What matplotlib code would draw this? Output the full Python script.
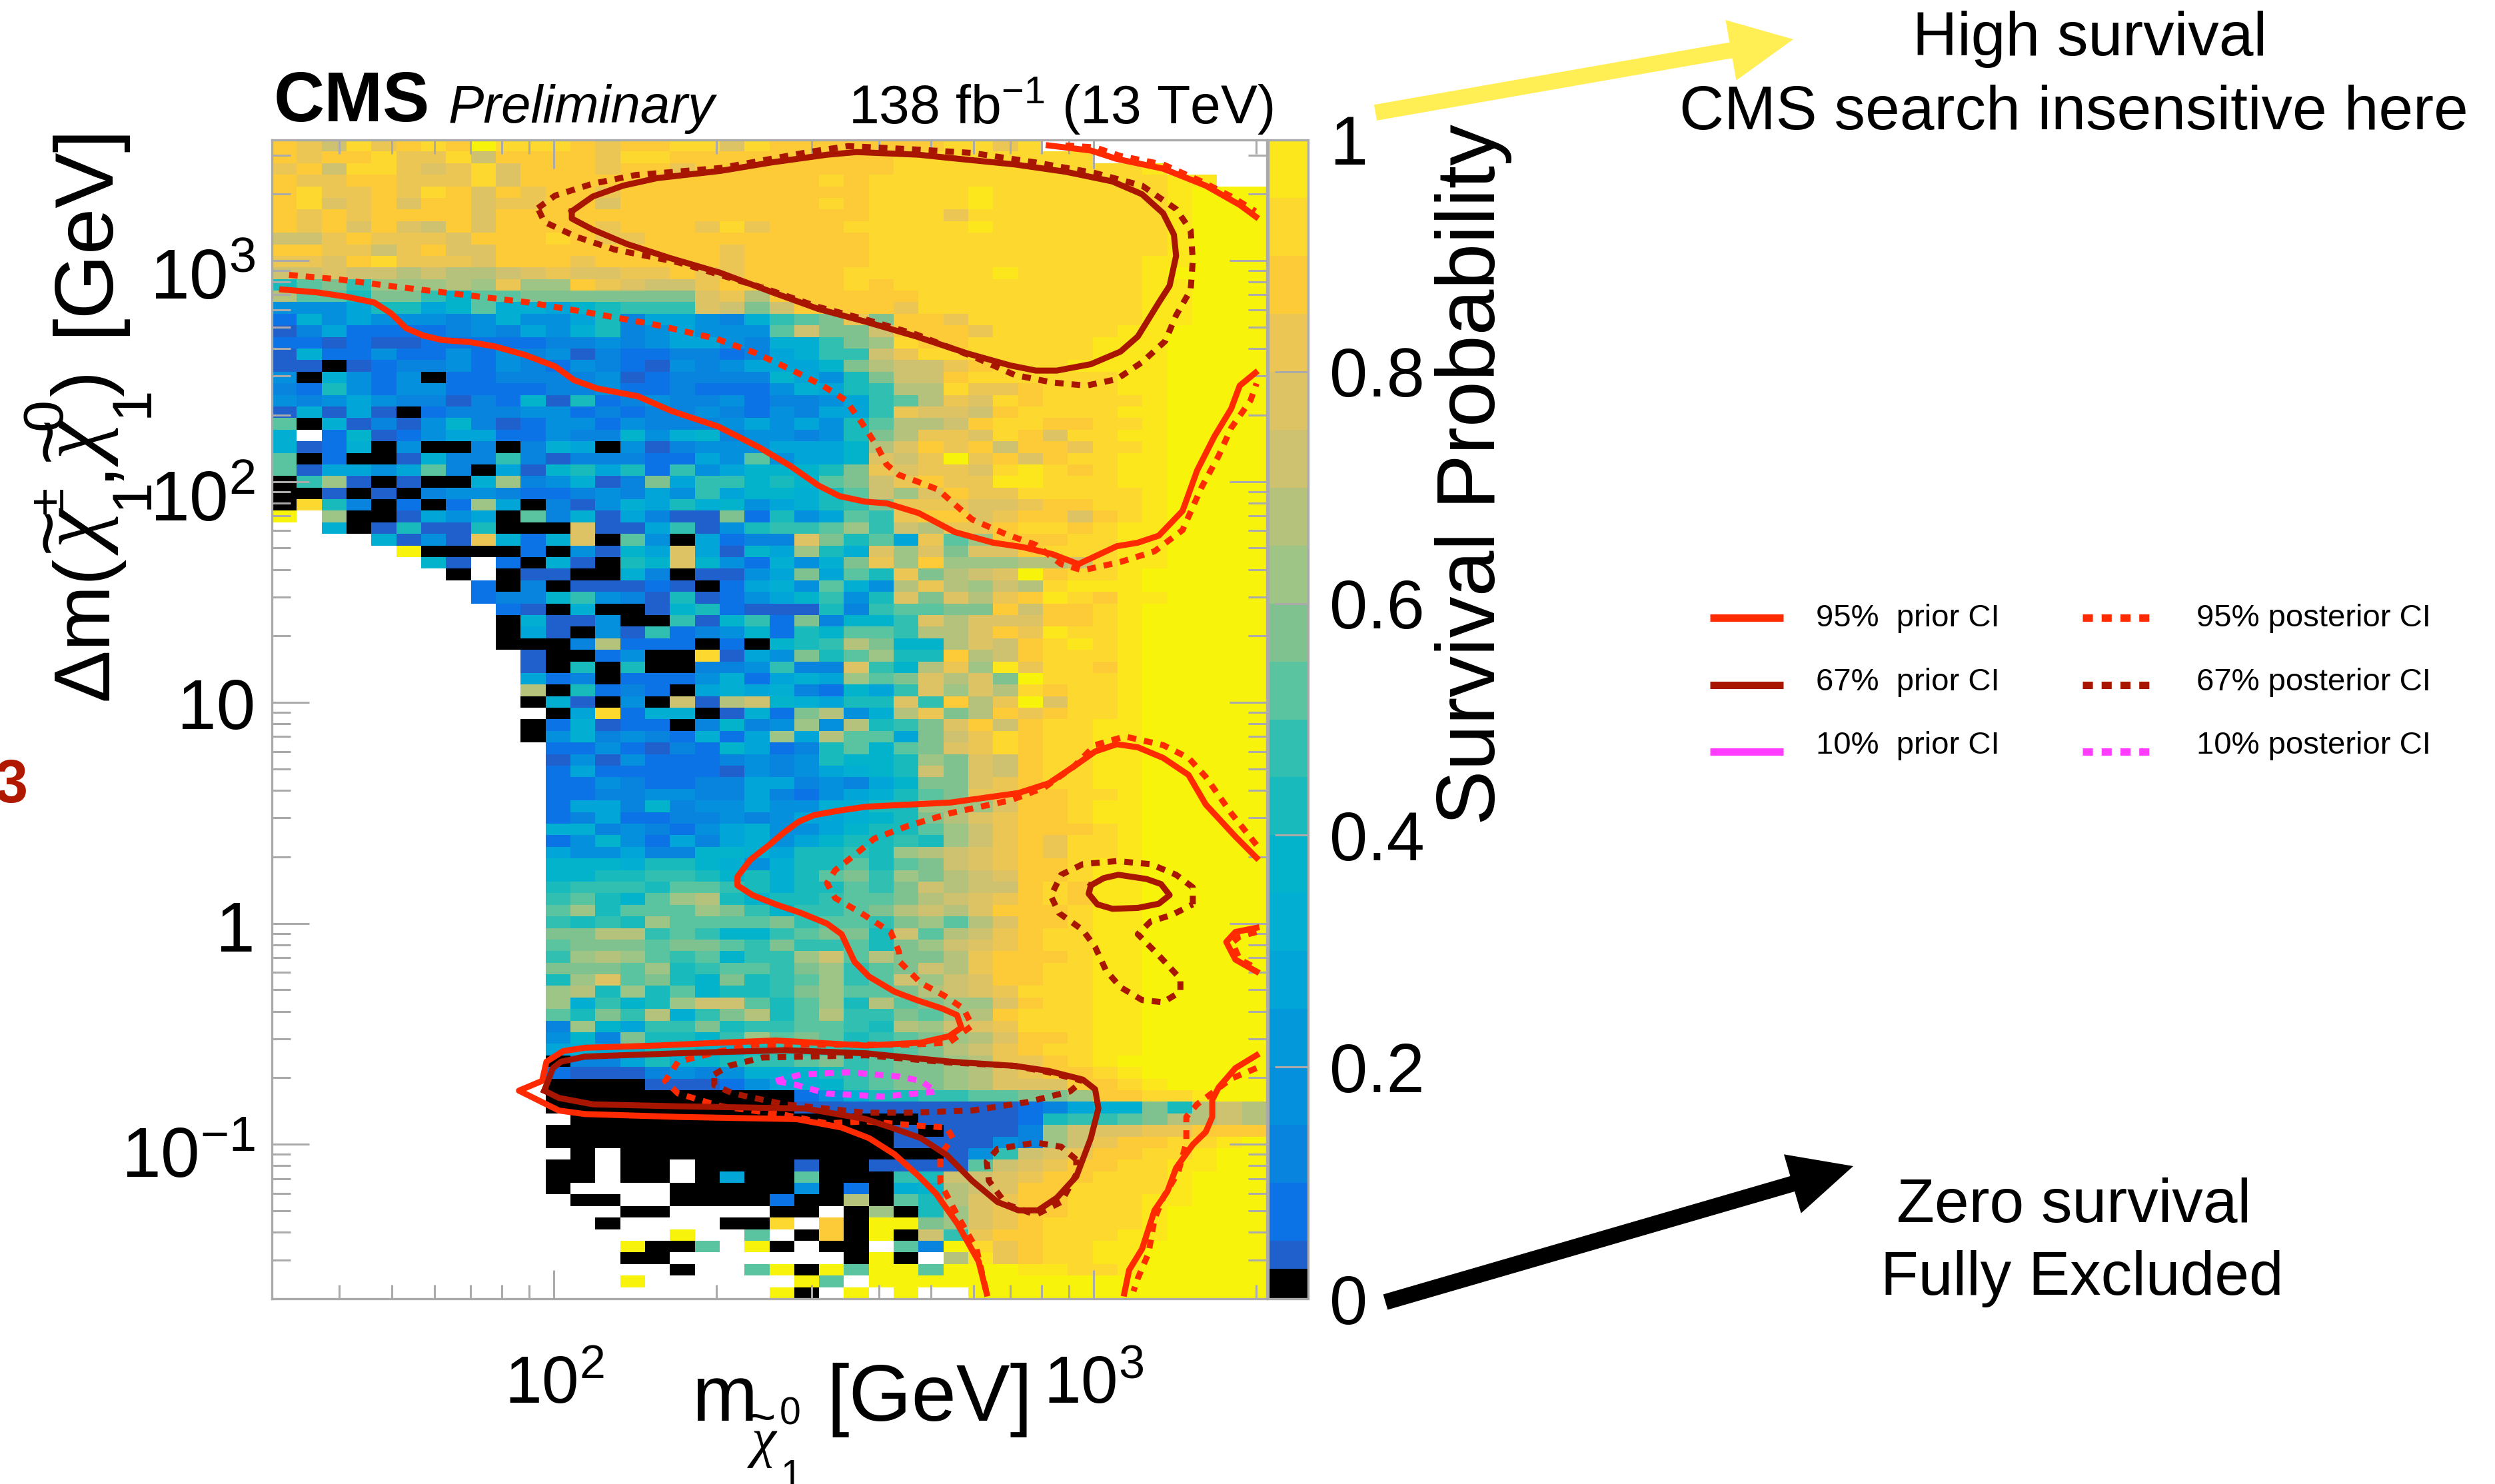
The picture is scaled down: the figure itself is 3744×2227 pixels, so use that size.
import matplotlib
matplotlib.use("Agg")
import matplotlib.pyplot as plt
import matplotlib.patches as mpatches
from matplotlib.colors import BoundaryNorm, ListedColormap
from matplotlib.lines import Line2D
from matplotlib.transforms import Affine2D, ScaledTranslation
import numpy as np

W, H = 3744, 2227

plt.rcParams["font.family"] = ["Liberation Sans", "DejaVu Sans"]
plt.rcParams["mathtext.fontset"] = "custom"
plt.rcParams["mathtext.rm"] = "Liberation Sans"
plt.rcParams["mathtext.it"] = "Liberation Sans:italic"
plt.rcParams["mathtext.bf"] = "Liberation Sans:bold"
plt.rcParams["mathtext.default"] = "regular"

# survival probability per cell, top row first, 40 mass bins per row
# '.' no point, '0' excluded, a..t rising probability (see CELL_VALUES)
CELL_CODES = "0abcdefghijklmnopqrst"
CELL_VALUES = [0.01, 0.04, 0.075, 0.125, 0.175, 0.275, 0.325, 0.375, 0.425, 0.475, 0.525,
               0.575, 0.625, 0.675, 0.725, 0.775, 0.825, 0.875, 0.925, 0.975, 1.0]
ROWS = [
    "qpnrpqrqtr rrqpqqrror qqqqqqqrrp r.........",
    "qpqqrpprnq qqqprrqqqq qqqqqrrrrr rrr.......",
    "pqnrrpopro qqqpqqpqqq qqqqqrrrrr rrrrrs....",
    "qppqqpppro qqqqqqqqqq qqrqrrrrrr rrrrrrss..",
    "qrppqprqoq pqqpqqqqqq qqqqrrrrsr rrrrrrsttt",
    "qropqoqqop pqqoqqqqqq qqrqrrrrsr rrrrrrsttt",
    "qpqpqqqqoq qqqqqqqqqq qqqqrrrprr rrrrrrsttt",
    "qpqoqonqoq qqqpqqqprp qqqrrrrrsr rrrrrrsttt",
    "nnpqpppoqq qrqppqqqqq qqqqrrrrrr rrrrrrsttt",
    "qqppnpqooq qqqqqqqqpq qqqqrrrrrr rrrrrrsttt",
    "ppoqrpppoq qqpqqqqqpq qqqqrrrrrr rrrrrsstt t",
    "nnonnmnmmn opooppqppq qqqrrrrrrs rrrrrsttt t",
    "hjkilllmlp llqponnpqq qqqrqrrrrr rrrrrsstt t",
    "mjjhkkigjj kkkkkkkopm qqqqqqrrrr rrrrrssttt",
    "dddehhegjf feghiiionk nqqqqprrrr rrrrrssttt",
    "bfdedddcdf ddehceedcf ijkpkqqprr rrrrrssttt",
    "acebbbbcdc edfhcdeddd jnkknqqqpr rrrrsstttt",
    "bbabaabbbb bccdcdeedc ffiklrqqrr rrrssstttt",
    "afbbdbbdbd cdacbbccbc efiinprrrr rrrssstttt",
    "aa0abccdbd cbdcbadcde eegkmnnpqr rrsssstttt",
    "d0fdbd0bbc cccdabcccc gedhknnqrr rrrrsstttt",
    "cbhdbddbbb bccdbbcbbb dfehimmrpp qrrrsstttt",
    "dcdedccacb gahbcdccdb ccdeijmpor qrrrrstttt",
    "afaea0bccc ddbcbccdcb dceeipoonq rrrrsstttt",
    "j0facadgca bddbdcccde dedhjmmnqr rqqrrstttt",
    "f.bgabdeeb bdccgdfgcd dcdhkmppor qorrsstttt",
    "fabf0d00c0 cfe0dacddd eeegmoqpqn qqprrstttt",
    "j0b00afcci cacccbbedj deegonptpq oqrrsstttt",
    "jaeedejc0e aghehbideg gghkpoppor srqrsstttt",
    "0ila0a00fl cdfackeiig hgjknpqpps srrrsstttt",
    "00a0a0cddc bbcdcedieg gfhjnloqpp rrrrrstttt",
    "0rhc0b0ble 0cadfehfgd efhikpppoo pqqrrstttt",
    "t.l00aede0 jcfaecaakb hdejipqqop qqoqrstttt",
    "..f0ahaah0 00oaaeiadh iijlinmppq rrqrsstttt",
    "....fadapf bfo0jd0ebc cokhjepjlq qqrrsstttt",
    ".....t0000 b0dageoeag elhfolokoo qrrrsstttt",
    "......ga.b 0fa0hgogdb fdfkplqlll mmnrsstttt",
    ".......0.0 aa00fc0aad ekejhpkmno tqrrsttttt",
    "........b0 c0aaaba0be fdjfdmpmln mrsssttttt",
    "........bc cgidcahabd egidhokomp qsrqsstttt",
    ".........b a0f00aghba aahcijjkkq nqqrsttttt",
    ".........0 faad00iagi bkcggiomoo oqqrsttttt",
    ".........0 ea0daibcdg bhgjjimmoq psrrsttttt",
    ".........0 00cmbbb0b0 ghimkggmon qrsrsttttt",
    ".......... a00bd00rae dkhjlhhqmn qrrrsttttt",
    ".......... a0h0h00ccd iccoigmpls prrqsttttt",
    ".......... ebc0bbbdfb efeljkomok trrrsttttt",
    ".......... m0hbcb0efe fcbgeiolom rqrrsttttt",
    ".......... 0fa0d0namn gfehhoiqmp torrsttttt",
    ".......... .0erbff0af bkmdfmpkmq pqrrsttttt",
    ".......... 0bfabb0cgc dldmhikoqn qrrssttttt",
    ".......... 0dfcdcbfbe lemjjeknpr qrrssttttt",
    ".......... .bbdbacbge bchjgjkopr qrrssttttt",
    ".......... .adadbbbcd cdhgghlkon qrrssttttt",
    ".......... .bebbbbbad cdefghnkon qrrssttttt",
    ".......... .bbdcbbcce ecdcegkkop qrrssttttt",
    ".......... .bbccddcce cbdefhjkpp qqrrsttttt",
    ".......... .beecgcdde ddffhhlllo qqrssttttt",
    ".......... .bcebbccdc deefghkmop qqrssttttt",
    ".......... .ffcdcbdef ddeghhjlnp qqqrsttttt",
    ".......... .bdgdbecef deghhihlnp qprrsttttt",
    ".......... .eddeccggf ehhihlmnop qprrsttttt",
    ".......... .gggfhhgfd fhhjhjknop qqrssttttt",
    ".......... .gghhiihgh fhjkilkmno qqrssttttt",
    ".......... .hiiihjjih fhhjiknmnn qrqssttttt",
    ".......... .ijhgjlmhg hhijjkmnop qrqssttttt",
    ".......... .jlhjjjlki giijkmnmoq qqrssttttt",
    ".......... .ihihljjjj kijjikljmo qqrssttttt",
    ".......... .kkmmijigg ijkkhnjmnp qrrssttttt",
    ".......... .jkkkjkkji kiijhklnop qrrssttttt",
    ".......... .ilmljijgi ilnjmkkmpq qqrssttttt",
    ".......... .kkkjlhijj iklijknmpq qrrssttttt",
    ".......... .hlojkhgkh ijlijnlnoq qrrssttttt",
    ".......... .lmhlhjghh ikljjkmnop rrrssttttt",
    ".......... .lfighlnnj hjlhmjkllo qrrssttttt",
    ".......... .jhkimfikm hjmiikjlmq rrrssttttt",
    ".......... .clgeiikhi ijjihmlnop rrrssttttt",
    ".......... .dgckhhgil jkjhijklmo qqrssttttt",
    ".......... .efefhhgfh iiihijkmnp qrrssttttt",
    ".......... .0ccehfghi ijkijkklmp pqrstttttt",
    ".......... .baaacdcdf fghijkklmo pqqrsttttt",
    ".......... .0000aaabd efgijkklmo ooqqrstttt",
    ".......... .000000000 0bdfhhiijj kklqqrrstt",
    ".......... .000000000 0aaaaaaaaa bceffkhmnm",
    ".......... ..00000000 000000aaaa bhiijkmmnm",
    ".......... .000000000 00000a0aaa clnooppqqq",
    ".......... .000000000 00000aaaad clnpqqrrst",
    ".......... ..0.000000 0000000adi nopqqrrstt",
    ".......... .00.00.000 0a00aaaajn opqqrrsstt",
    ".......... .00.00.0e0 0j000ihnno pqqrrrsttt",
    ".......... .0....0000 0d0b0fgmno qqrrrrsttt",
    ".......... ..00..0000 b00m0jhmop qqrrrssttt",
    ".......... ....00.... 00.0l0hlop qqrrrstttt",
    ".......... ...0....00 r.q0ttklop qrrrrstttt",
    ".......... ......t..j .0q0t0nipq qrrrsstttt",
    ".......... ....t00j.t 0.00.jctrp qrrssttttt",
    ".......... ....00.... ...0t0.msp qrrssttttt",
    ".......... ......0..j t0tjttjttt ssrrsttttt",
    ".......... ....t..... .tj.tttttt tttttttttt",
    ".......... .......... t0.t.t..tt tttttttttt",
]

XMIN, XMAX = 30, 2095
YMIN, YMAX = 0.02, 3515
N_XBINS, N_YBINS = 40, 100

# palette bands of the z axis, bottom to top
BAND_EDGES = [0, 0.026, 0.05, 0.1, 0.15, 0.2, 0.25, 0.3, 0.35, 0.4, 0.45, 0.5, 0.55,
              0.6, 0.65, 0.7, 0.75, 0.8, 0.85, 0.9, 0.95, 1.0]
BAND_COLORS = ["#000000", "#2060CC", "#0B73E5", "#0883DE", "#0490DC", "#0298DA", "#02A5D8",
               "#02AED2", "#02B3CB", "#18BABB", "#30BFB0", "#5AC3A0", "#80C28F", "#9EC585",
               "#B5C27B", "#CEC271", "#DEC364", "#ECC655", "#FDCB38", "#FDD92F", "#FCE71C"]
COLOR_ONE = "#F8F30A"
Z_TICKS = [0, 0.2, 0.4, 0.6, 0.8, 1]
Z_TICK_LABELS = ["0", "0.2", "0.4", "0.6", "0.8", "1"]

X_TICKS = [100, 1000]
X_TICK_LABELS = ["$10^{2}$", "$10^{3}$"]
X_MINOR = [40, 50, 60, 70, 80, 90, 200, 300, 400, 500, 600, 700, 800, 900, 2000]
Y_TICKS = [0.1, 1, 10, 100, 1000]
Y_TICK_LABELS = ["$10^{-1}$", "1", "10", "$10^{2}$", "$10^{3}$"]
Y_LABEL_DROP = [8, 3, 1, 15, 14]
Y_MINOR = [0.03, 0.04, 0.05, 0.06, 0.07, 0.08, 0.09,
           0.2, 0.3, 0.4, 0.5, 0.6, 0.7, 0.8, 0.9,
           2, 3, 4, 5, 6, 7, 8, 9,
           20, 30, 40, 50, 60, 70, 80, 90,
           200, 300, 400, 500, 600, 700, 800, 900,
           2000, 3000]

# contours, log10 of mass and of mass splitting
prior95_a_x = [1.496, 1.561, 1.616, 1.667, 1.698, 1.726, 1.757, 1.793, 1.844, 1.891, 1.946, 2.002,
               2.037, 2.080, 2.155, 2.218, 2.305, 2.380, 2.439, 2.490, 2.529, 2.576, 2.617, 2.676,
               2.743, 2.814, 2.869, 2.924, 2.972, 3.043, 3.082, 3.121, 3.165, 3.192, 3.224, 3.255,
               3.271, 3.300]
prior95_a_y = [2.869, 2.856, 2.836, 2.810, 2.761, 2.694, 2.661, 2.640, 2.631, 2.611, 2.573, 2.521,
               2.459, 2.421, 2.386, 2.319, 2.248, 2.155, 2.069, 1.982, 1.934, 1.909, 1.901, 1.857,
               1.771, 1.723, 1.703, 1.671, 1.626, 1.707, 1.723, 1.755, 1.867, 2.050, 2.204, 2.329,
               2.434, 2.492]
post95_a_x = [1.509, 1.600, 1.702, 1.836, 1.954, 2.072, 2.191, 2.301, 2.372, 2.443, 2.498, 2.541,
              2.569, 2.600, 2.616, 2.639, 2.671, 2.712, 2.743, 2.775, 2.838, 2.893, 2.940, 2.980,
              3.050, 3.113, 3.165, 3.200, 3.232, 3.255, 3.291, 3.302]
post95_a_y = [2.935, 2.915, 2.883, 2.844, 2.810, 2.761, 2.708, 2.646, 2.583, 2.502, 2.434, 2.367,
              2.271, 2.155, 2.078, 2.030, 2.002, 1.963, 1.896, 1.828, 1.761, 1.713, 1.626, 1.598,
              1.636, 1.684, 1.780, 1.973, 2.117, 2.242, 2.367, 2.444]
prior67_a_x = [2.033, 2.072, 2.128, 2.191, 2.309, 2.403, 2.506, 2.561, 2.676, 2.735, 2.854, 2.948,
               3.035, 3.090, 3.129, 3.149, 3.153, 3.141, 3.121, 3.082, 3.050, 2.995, 2.932, 2.893,
               2.846, 2.767, 2.672, 2.578, 2.490, 2.403, 2.309, 2.214, 2.135, 2.072, 2.033, 2.033]
prior67_a_y = [3.223, 3.290, 3.339, 3.373, 3.406, 3.444, 3.479, 3.491, 3.479, 3.464, 3.435, 3.402,
               3.358, 3.300, 3.214, 3.117, 3.021, 2.886, 2.810, 2.656, 2.588, 2.531, 2.502, 2.502,
               2.525, 2.579, 2.656, 2.723, 2.781, 2.858, 2.944, 3.012, 3.075, 3.140, 3.190, 3.223]
post67_a_x = [1.970, 2.002, 2.072, 2.151, 2.309, 2.474, 2.545, 2.676, 2.775, 2.893, 3.003, 3.090,
              3.153, 3.180, 3.184, 3.180, 3.153, 3.133, 3.090, 3.043, 2.987, 2.924, 2.854, 2.783,
              2.672, 2.578, 2.490, 2.387, 2.230, 2.112, 2.041, 1.982, 1.970]
post67_a_y = [3.237, 3.294, 3.348, 3.387, 3.419, 3.492, 3.518, 3.502, 3.487, 3.444, 3.396, 3.339,
              3.233, 3.137, 3.002, 2.867, 2.752, 2.636, 2.540, 2.463, 2.434, 2.448, 2.482, 2.559,
              2.665, 2.733, 2.790, 2.877, 2.992, 3.050, 3.108, 3.175, 3.237]
prior95_b_x = [2.917, 2.995, 3.043, 3.129, 3.208, 3.271, 3.301]
prior95_b_y = [3.521, 3.498, 3.460, 3.416, 3.339, 3.252, 3.198]
post95_b_x = [2.948, 3.003, 3.050, 3.129, 3.200, 3.255, 3.300]
post95_b_y = [3.521, 3.512, 3.473, 3.435, 3.358, 3.290, 3.223]
prior95_c_x = [3.302, 3.263, 3.208, 3.176, 3.129, 3.082, 3.043, 3.003, 2.964, 2.917, 2.861, 2.735,
               2.578, 2.525, 2.482, 2.454, 2.427, 2.399, 2.364, 2.340, 2.340, 2.368, 2.411, 2.458,
               2.506, 2.533, 2.557, 2.584, 2.631, 2.672, 2.720, 2.747, 2.755, 2.732, 2.680, 2.578,
               2.411, 2.309, 2.191, 2.057, 2.017, 1.986, 1.978, 1.935, 2.009, 2.057, 2.230, 2.450,
               2.533, 2.584, 2.631, 2.677, 2.708, 2.747, 2.787, 2.802]
prior95_c_y = [0.297, 0.393, 0.538, 0.672, 0.749, 0.797, 0.811, 0.778, 0.711, 0.634, 0.590, 0.547,
               0.528, 0.509, 0.490, 0.461, 0.413, 0.355, 0.288, 0.211, 0.172, 0.128, 0.086, 0.047,
               -0.001, -0.049, -0.174, -0.241, -0.309, -0.347, -0.386, -0.415, -0.472, -0.511,
               -0.540, -0.553, -0.530, -0.540, -0.553, -0.563, -0.578, -0.626, -0.713, -0.757,
               -0.847, -0.863, -0.876, -0.886, -0.924, -0.972, -1.045, -1.146, -1.223, -1.357,
               -1.530, -1.675]
post95_c_x = [3.302, 3.255, 3.208, 3.176, 3.129, 3.058, 3.003, 2.964, 2.909, 2.846, 2.735, 2.657,
              2.594, 2.561, 2.521, 2.506, 2.521, 2.569, 2.624, 2.639, 2.641, 2.680, 2.724, 2.759,
              2.775, 2.732, 2.657, 2.578, 2.466, 2.372, 2.309, 2.230, 2.206, 2.230, 2.309, 2.427,
              2.506, 2.578, 2.672, 2.728, 2.739, 2.716, 2.716, 2.747, 2.783, 2.802]
post95_c_y = [0.355, 0.499, 0.663, 0.749, 0.807, 0.846, 0.807, 0.711, 0.615, 0.557, 0.499, 0.442,
              0.384, 0.317, 0.240, 0.182, 0.115, 0.047, -0.039, -0.126, -0.174, -0.270, -0.328,
              -0.386, -0.463, -0.540, -0.549, -0.549, -0.549, -0.549, -0.578, -0.626, -0.713,
              -0.770, -0.828, -0.867, -0.905, -0.896, -0.915, -0.924, -0.972, -1.049, -1.174,
              -1.319, -1.473, -1.675]
prior67_b_x = [1.982, 1.998, 2.013, 2.057, 2.230, 2.427, 2.578, 2.735, 2.854, 2.917, 2.980, 3.003,
               3.009, 2.995, 2.968, 2.932, 2.897, 2.861, 2.822, 2.775, 2.728, 2.680, 2.625, 2.578,
               2.466, 2.230, 2.072, 2.009, 1.982]
prior67_b_y = [-0.757, -0.655, -0.626, -0.603, -0.588, -0.574, -0.588, -0.626, -0.645, -0.668,
               -0.707, -0.751, -0.838, -0.972, -1.146, -1.242, -1.299, -1.299, -1.261, -1.165,
               -1.049, -0.972, -0.924, -0.886, -0.838, -0.828, -0.819, -0.790, -0.757]
post67_b_x = [2.297, 2.324, 2.387, 2.578, 2.735, 2.854, 2.917, 2.980, 2.956, 2.877, 2.775, 2.657,
              2.578, 2.427, 2.332, 2.297, 2.297]
post67_b_y = [-0.684, -0.645, -0.607, -0.597, -0.630, -0.645, -0.674, -0.713, -0.761, -0.809,
              -0.847, -0.857, -0.857, -0.819, -0.770, -0.732, -0.684]
post67_c_x = [2.968, 2.940, 2.893, 2.822, 2.802, 2.806, 2.838, 2.893, 2.940, 2.968, 2.968]
post67_c_y = [-1.069, -1.011, -0.992, -1.021, -1.078, -1.165, -1.271, -1.319, -1.261, -1.136, -1.069]
post10_x = [2.411, 2.458, 2.545, 2.639, 2.680, 2.708, 2.672, 2.609, 2.506, 2.450, 2.411]
post10_y = [-0.713, -0.684, -0.674, -0.693, -0.713, -0.761, -0.770, -0.784, -0.770, -0.732, -0.713]
prior67_c_x = [2.995, 3.019, 3.046, 3.098, 3.125, 3.141, 3.121, 3.082, 3.035, 3.007, 2.991, 2.995]
prior67_c_y = [0.172, 0.205, 0.220, 0.201, 0.178, 0.128, 0.089, 0.070, 0.066, 0.086, 0.134, 0.172]
post67_d_x = [3.184, 3.184, 3.153, 3.106, 3.043, 2.980, 2.940, 2.921, 2.936, 2.980, 3.003, 3.023,
              3.050, 3.090, 3.129, 3.161, 3.161, 3.121, 3.082, 3.106, 3.145, 3.184]
post67_d_y = [0.086, 0.163, 0.220, 0.268, 0.282, 0.268, 0.220, 0.124, 0.047, -0.030, -0.107, -0.213,
              -0.289, -0.347, -0.357, -0.309, -0.251, -0.145, -0.049, 0.009, 0.038, 0.086]
prior95_d_x = [3.302, 3.263, 3.246, 3.263, 3.302]
prior95_d_y = [-0.020, -0.039, -0.084, -0.164, -0.218]
post95_d_x = [3.302, 3.271, 3.257, 3.271, 3.302]
post95_d_y = [-0.039, -0.059, -0.087, -0.164, -0.203]
prior95_e_x = [3.302, 3.263, 3.232, 3.220, 3.220, 3.208, 3.184, 3.153, 3.137, 3.113, 3.090, 3.066, 3.057]
prior95_e_y = [-0.597, -0.655, -0.742, -0.799, -0.876, -0.944, -1.001, -1.107, -1.213, -1.299,
               -1.473, -1.569, -1.675]
post95_e_x = [3.302, 3.255, 3.192, 3.172, 3.172, 3.157, 3.129, 3.113, 3.102, 3.082, 3.074]
post95_e_y = [-0.655, -0.703, -0.819, -0.876, -0.992, -1.126, -1.242, -1.338, -1.492, -1.607, -1.665]

RED = "#FF2A00"
DARK = "#A81500"
MAGENTA = "#FF3CFF"
GRAY = "#AAAAAA"

CONTOURS = [
    (prior95_a_x, prior95_a_y, RED, True), (post95_a_x, post95_a_y, RED, False),
    (prior95_b_x, prior95_b_y, RED, True), (post95_b_x, post95_b_y, RED, False),
    (prior95_c_x, prior95_c_y, RED, True), (post95_c_x, post95_c_y, RED, False),
    (prior95_d_x, prior95_d_y, RED, True), (post95_d_x, post95_d_y, RED, False),
    (prior95_e_x, prior95_e_y, RED, True), (post95_e_x, post95_e_y, RED, False),
    (post67_a_x, post67_a_y, DARK, False), (prior67_a_x, prior67_a_y, DARK, True),
    (prior67_b_x, prior67_b_y, DARK, True), (post67_b_x, post67_b_y, DARK, False),
    (post67_c_x, post67_c_y, DARK, False), (prior67_c_x, prior67_c_y, DARK, True),
    (post67_d_x, post67_d_y, DARK, False), (post10_x, post10_y, MAGENTA, False),
]

LEGEND_LABELS = [("95%  prior CI", "95% posterior CI", RED),
                 ("67%  prior CI", "67% posterior CI", DARK),
                 ("10%  prior CI", "10% posterior CI", MAGENTA)]


def put(fig, px, py, s, **kw):
    fig.text(px / W, 1 - py / H, s, ha="left", va="baseline", **kw)


def decode_cells():
    lookup = dict(zip(CELL_CODES, CELL_VALUES))
    lookup["."] = np.nan
    cells = []
    for row in ROWS:
        row = row.replace(" ", "")
        assert len(row) == N_XBINS, row
        cells.append([lookup[c] for c in row])
    assert len(cells) == N_YBINS
    return np.ma.masked_invalid(np.array(cells)[::-1])


def draw_plane(fig):
    ax = fig.add_axes([408 / W, 1 - 1949 / H, (1901 - 408) / W, (1949 - 210) / H])
    cmap = ListedColormap(BAND_COLORS)
    cmap.set_over(COLOR_ONE)
    norm = BoundaryNorm(BAND_EDGES, cmap.N)
    xedges = np.geomspace(XMIN, XMAX, N_XBINS + 1)
    yedges = np.geomspace(YMIN, YMAX, N_YBINS + 1)
    mesh = ax.pcolormesh(xedges, yedges, decode_cells(), cmap=cmap, norm=norm)

    for x, y, color, solid in CONTOURS:
        ls = "-" if solid else (0, (1.44, 1.33))
        ax.plot(10 ** np.array(x), 10 ** np.array(y), color=color, lw=6.5, ls=ls,
                dash_capstyle="butt", solid_joinstyle="round", zorder=2.5)

    ax.set_xscale("log")
    ax.set_yscale("log")
    ax.set_xlim(XMIN, XMAX)
    ax.set_ylim(YMIN, YMAX)
    ax.set_xticks(X_TICKS, X_TICK_LABELS)
    ax.set_xticks(X_MINOR, [""] * len(X_MINOR), minor=True)
    ax.set_yticks(Y_TICKS, Y_TICK_LABELS)
    ax.set_yticks(Y_MINOR, [""] * len(Y_MINOR), minor=True)
    ax.tick_params(axis="x", which="major", direction="in", top=True, length=31, width=2.2,
                   color=GRAY, labelsize=72, pad=61)
    ax.tick_params(axis="y", which="major", direction="in", right=True, length=40, width=2.2,
                   color=GRAY, labelsize=76, pad=18)
    ax.tick_params(axis="x", which="minor", direction="in", top=True, length=15, width=2.2, color=GRAY)
    ax.tick_params(axis="y", which="minor", direction="in", right=True, length=20, width=2.2, color=GRAY)
    for label, drop in zip(ax.get_yticklabels(), Y_LABEL_DROP):
        label.set_transform(label.get_transform()
                            + ScaledTranslation(0, -drop / 72, fig.dpi_scale_trans))
    for s in ax.spines.values():
        s.set_color(GRAY)
        s.set_linewidth(2.4)
    return mesh


def draw_colorbar(fig, mesh):
    cax = fig.add_axes([1903 / W, 1 - 1949 / H, 60 / W, (1949 - 210) / H])
    cb = fig.colorbar(mesh, cax=cax, spacing="proportional", ticks=Z_TICKS)
    cb.ax.set_yticklabels(Z_TICK_LABELS)
    cb.minorticks_off()
    cb.ax.tick_params(direction="in", length=36, width=2.2, color=GRAY, labelsize=74, pad=23)
    cb.outline.set_edgecolor(GRAY)
    cb.outline.set_linewidth(2.4)


def draw_titles(fig):
    put(fig, 411, 182, "CMS", fontsize=76, fontweight="bold")
    put(fig, 673, 184, "Preliminary", fontsize=57.6, fontstyle="italic")
    put(fig, 1273, 186, "138 fb$^{-1}$ (13 TeV)", fontsize=59.3)
    put(fig, -8, 1204, "3", fontsize=65, fontweight="bold", color="#B01800")

    # y axis title, pieces set by hand like the tilde chi of the original
    side = dict(rotation=90, rotation_mode="anchor")
    put(fig, 161, 1051, "\u0394m(", fontsize=85, **side)
    put(fig, 161, 833, "\u03c7", fontsize=95, family="Liberation Serif", fontstyle="italic", **side)
    put(fig, 107, 829, "~", fontsize=85, **side)
    put(fig, 94, 771, "\u00b1", fontsize=54, **side)
    put(fig, 222, 764, "1", fontsize=60, **side)
    put(fig, 161, 721, ",", fontsize=85, **side)
    put(fig, 161, 700, "\u03c7", fontsize=95, family="Liberation Serif", fontstyle="italic", **side)
    put(fig, 107, 692, "~", fontsize=85, **side)
    put(fig, 92, 645, "0", fontsize=62, **side)
    put(fig, 222, 626, "1", fontsize=60, **side)
    put(fig, 161, 595, ")", fontsize=85, **side)
    put(fig, 161, 504, "[GeV]", fontsize=90, **side)

    # x axis title
    put(fig, 1038, 2132, "m", fontsize=85)
    put(fig, 1120, 2152, "~", fontsize=55)
    put(fig, 1170, 2137, "0", fontsize=41)
    put(fig, 1128, 2185, "\u03c7", fontsize=60, family="Liberation Serif", fontstyle="italic")
    put(fig, 1172, 2231, "1", fontsize=41)
    put(fig, 1240, 2132, "[GeV]", fontsize=87)

    put(fig, 2243, 1238, "Survival Probability", fontsize=89, **side)

    put(fig, 2870, 83, "High survival", fontsize=67)
    put(fig, 2520, 194, "CMS search insensitive here", fontsize=67)
    put(fig, 2846, 1834, "Zero survival", fontsize=67)
    put(fig, 2822, 1943, "Fully Excluded", fontsize=67)


def draw_legend(fig, px):
    for i, (left, right, color) in enumerate(LEGEND_LABELS):
        yline = 927 + 100.5 * i
        fig.add_artist(Line2D([2566, 2676], [yline, yline], color=color, lw=8,
                              solid_capstyle="butt", transform=px))
        fig.add_artist(Line2D([3125, 3226], [yline, yline], color=color, lw=8, ls=(0, (1.36, 1.18)),
                              dash_capstyle="butt", transform=px))
        put(fig, 2725, 940 + 95.5 * i, left, fontsize=34)
        put(fig, 3296, 940 + 95.5 * i, right, fontsize=34)


def draw_arrows(fig, px):
    arrows = [(2064, 169, 2691, 59, "#FFEF55"), (2079, 1954, 2781, 1750, "#000000")]
    for x0, y0, x1, y1, color in arrows:
        fig.add_artist(mpatches.FancyArrow(x0, y0, x1 - x0, y1 - y0, width=24, head_width=92,
                                           head_length=95, length_includes_head=True,
                                           color=color, lw=0, transform=px))


def main():
    fig = plt.figure(figsize=(W / 100, H / 100), dpi=100)
    px = Affine2D().scale(1 / W, -1 / H).translate(0, 1) + fig.transFigure
    mesh = draw_plane(fig)
    draw_colorbar(fig, mesh)
    draw_titles(fig)
    draw_legend(fig, px)
    draw_arrows(fig, px)
    fig.savefig("out.png", dpi=100)


if __name__ == "__main__":
    main()
